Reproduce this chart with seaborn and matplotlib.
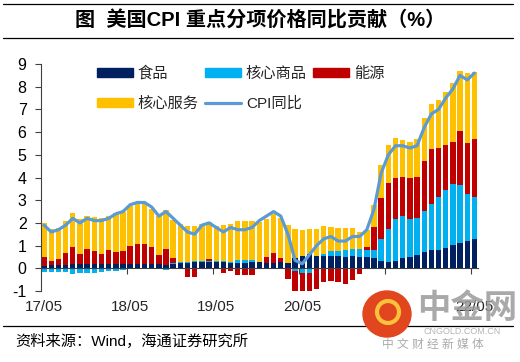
import numpy as np
import pandas as pd
import matplotlib
matplotlib.use("Agg")
import matplotlib.pyplot as plt
import seaborn as sns
from matplotlib.lines import Line2D
from matplotlib.patches import Patch, Ellipse

# ---------------- data (2017/05 - 2022/05, monthly) ----------------
months = pd.period_range("2017-05", "2022-05", freq="M")

food = [0.12, 0.13, 0.14, 0.15, 0.17, 0.17, 0.18, 0.17, 0.19, 0.18, 0.18, 0.19,
        0.19, 0.19, 0.19, 0.19, 0.19, 0.16, 0.19, 0.22, 0.22, 0.27, 0.28, 0.26,
        0.27, 0.28, 0.25, 0.24, 0.25, 0.29, 0.27, 0.25, 0.25, 0.27, 0.25, 0.47,
        0.54, 0.62, 0.56, 0.56, 0.53, 0.53, 0.50, 0.53, 0.50, 0.50, 0.47, 0.32,
        0.28, 0.32, 0.46, 0.50, 0.60, 0.71, 0.79, 0.79, 0.90, 1.01, 1.13, 1.21, 1.31]

core_goods = [-0.16, -0.15, -0.15, -0.15, -0.26, -0.22, -0.20, -0.20, -0.15, -0.12, -0.10, -0.08,
              -0.05, -0.02, 0.00, -0.02, -0.04, -0.06, 0.03, 0.04, 0.07, 0.06, 0.05, 0.05,
              0.05, 0.05, 0.05, 0.12, 0.12, 0.08, 0.03, 0.00, -0.02, -0.05, -0.05, -0.12,
              -0.20, -0.20, -0.05, 0.09, 0.22, 0.24, 0.29, 0.34, 0.35, 0.29, 0.35, 0.96,
              1.43, 1.84, 1.83, 1.66, 1.60, 1.82, 2.06, 2.34, 2.54, 2.70, 2.53, 2.08, 1.84]

energy = [0.38, 0.18, 0.27, 0.51, 0.79, 0.48, 0.66, 0.58, 0.46, 0.63, 0.54, 0.57,
          0.80, 0.90, 0.90, 0.77, 0.38, 0.68, 0.24, -0.02, -0.38, -0.38, -0.02, 0.10,
          -0.05, -0.20, -0.12, -0.28, -0.28, -0.28, -0.03, 0.25, 0.43, 0.20, -0.43, -1.20,
          -1.25, -1.15, -0.87, -0.60, -0.55, -0.60, -0.68, -0.53, -0.26, 0.15, 1.00, 1.82,
          2.05, 1.84, 1.74, 1.83, 1.83, 2.19, 2.41, 2.15, 1.99, 1.86, 2.38, 2.24, 2.53]

core_services = [1.50, 1.42, 1.38, 1.43, 1.47, 1.53, 1.45, 1.50, 1.57, 1.51, 1.72, 1.74,
                 1.75, 1.73, 1.79, 1.67, 1.74, 1.72, 1.67, 1.71, 1.59, 1.55, 1.64, 1.65,
                 1.53, 1.57, 1.64, 1.71, 1.70, 1.70, 1.74, 1.69, 1.72, 1.74, 1.65, 1.25,
                 1.14, 1.10, 1.18, 1.22, 1.09, 1.01, 0.99, 0.91, 0.75, 0.74, 0.96, 1.44,
                 1.67, 1.72, 1.62, 1.57, 1.66, 1.88, 1.98, 2.13, 2.35, 2.58, 2.66, 3.06, 2.95]

cpi = [1.9, 1.6, 1.7, 1.9, 2.2, 2.0, 2.2, 2.1, 2.1, 2.2, 2.4, 2.5,
       2.8, 2.9, 2.9, 2.7, 2.3, 2.5, 2.2, 1.9, 1.6, 1.5, 1.9, 2.0,
       1.8, 1.6, 1.8, 1.7, 1.7, 1.8, 2.1, 2.3, 2.5, 2.3, 1.5, 0.35,
       0.2, 0.6, 1.0, 1.3, 1.4, 1.2, 1.2, 1.4, 1.4, 1.7, 2.6, 4.2,
       5.0, 5.4, 5.4, 5.3, 5.4, 6.2, 6.8, 7.0, 7.5, 7.9, 8.5, 8.3, 8.6]

tick_labels = ["17/05", "18/05", "19/05", "20/05", "21/05", "22/05"]
series_names = ["食品", "核心商品", "能源", "核心服务"]
line_name = "CPI同比"

# ---------------- style ----------------
c_food = "#002060"
c_goods = "#00B0F0"
c_energy = "#C00000"
c_serv = "#FFC000"
c_line = "#5B9BD5"

sns.set_theme(style="white")
plt.rcParams["font.family"] = ["Liberation Sans", "Noto Sans CJK SC"]

n = len(months)
idx = np.arange(n)
comps = np.array([food, core_goods, energy, core_services])
pos = np.cumsum(np.clip(comps, 0, None), axis=0)
neg = np.cumsum(np.clip(comps, None, 0), axis=0)
colors = [c_food, c_goods, c_energy, c_serv]

df = pd.DataFrame({"idx": idx, "cpi": cpi})

fig = plt.figure(figsize=(5.2, 3.62), dpi=100)
ax = fig.add_axes([0.0779, 0.1961, 0.8413, 0.6271])

# stacked bars: draw cumulative totals from outermost to innermost
for k in range(3, -1, -1):
    for stack in (pos, neg):
        sns.barplot(x=idx, y=stack[k], color=colors[k], saturation=1, width=0.75,
                    errorbar=None, linewidth=0, ax=ax)

sns.lineplot(data=df, x="idx", y="cpi", color=c_line, linewidth=2.3, ax=ax,
             legend=False, zorder=5)

ax.set_xlim(-0.5, n - 0.5)
ax.set_ylim(-1, 9)
ax.set_xlabel("")
ax.set_ylabel("")

ax.set_xticks([0, 12, 24, 36, 48, 60])
ax.set_xticklabels(tick_labels, fontsize=11, color="black")
ax.set_xticks([11.5, 23.5, 35.5, 47.5, 59.5], minor=True)
ax.tick_params(axis="x", which="major", length=0, pad=23, bottom=True)
ax.tick_params(axis="x", which="minor", length=4, width=0.8, direction="out",
               bottom=True, color="#404040")
ax.set_yticks(range(-1, 10))
ax.set_yticklabels([str(v) for v in range(-1, 10)], fontsize=11.5, color="black")
ax.tick_params(axis="y", length=4, width=0.8, direction="out", left=True,
               pad=6, color="#404040")

for s in ("top", "right"):
    ax.spines[s].set_visible(False)
ax.spines["bottom"].set_position(("data", 0))
ax.spines["bottom"].set_color("#404040")
ax.spines["bottom"].set_linewidth(0.8)
ax.spines["left"].set_color("#404040")
ax.spines["left"].set_linewidth(0.8)

# legend
handles = [Patch(color=c_food), Patch(color=c_serv), Patch(color=c_goods),
           Line2D([], [], color=c_line, linewidth=2.3), Patch(color=c_energy)]
labels = [series_names[0], series_names[3], series_names[1], line_name, series_names[2]]
ax.legend(handles, labels, ncol=3, loc="upper left", bbox_to_anchor=(0.129, 0.991),
          frameon=False, fontsize=11, handlelength=2.35, handleheight=0.5,
          handletextpad=0.33, columnspacing=0.4, labelspacing=1.05,
          borderpad=0, borderaxespad=0)

# title and rules
fig.text(0.5, 1 - 20 / 362, "图  美国CPI 重点分项价格同比贡献（%）", ha="center",
         va="center", fontsize=14.5, fontweight="bold", color="black")
for yy in (4, 38, 326):
    fig.add_artist(Line2D([3 / 520, 513 / 520], [1 - yy / 362, 1 - yy / 362],
                          color="black", linewidth=0.9))
fig.text(15 / 520, 1 - 341 / 362, "资料来源：Wind，海通证券研究所", ha="left",
         va="center", fontsize=11, color="black")

# watermark
fig.add_artist(Ellipse((387 / 520, 1 - 314 / 362), 48 / 520, 46 / 362,
                       color="#E2461E", zorder=10))
fig.add_artist(Ellipse((388 / 520, 1 - 312 / 362), 22 / 520, 22 / 362,
                       facecolor="none", edgecolor="#F9C23C", linewidth=3, zorder=11))
fig.text(467 / 520, 1 - 309 / 362, "中金网", ha="center", va="center", fontsize=24,
         fontweight="bold", color="#9A9A9A", alpha=0.85, zorder=10)
fig.text(462 / 520, 1 - 331 / 362, "CNGOLD.COM.CN", ha="center", va="center",
         fontsize=6.5, color="#B5B5B5", zorder=10)
fig.text(433 / 520, 1 - 345 / 362, "中 文 财 经 新 媒 体", ha="center", va="center",
         fontsize=8.5, color="#AAAAAA", zorder=10)

fig.savefig("out.png", dpi=100)
